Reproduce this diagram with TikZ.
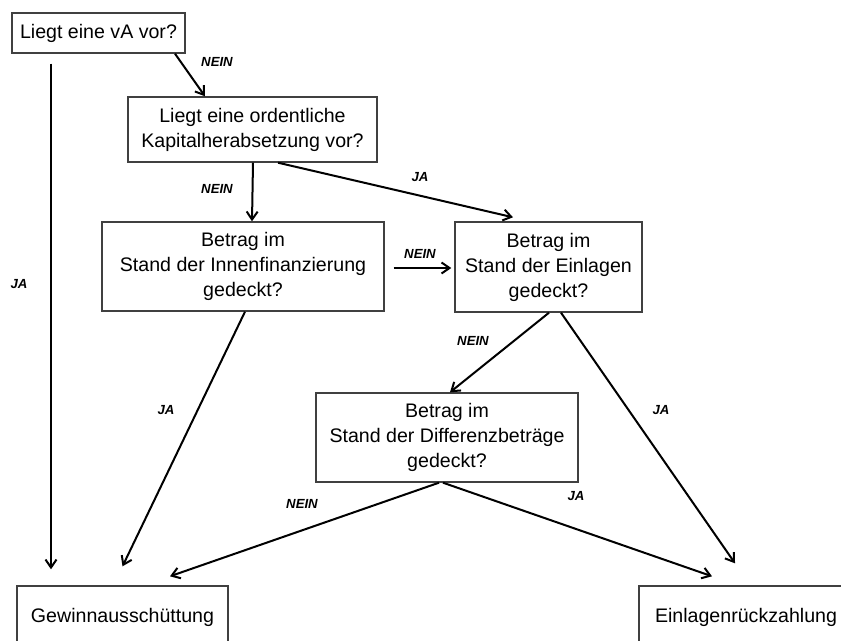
\documentclass[tikz,border=0pt]{standalone}
\usepackage{fontspec}
\setmainfont{Liberation Sans}
\usetikzlibrary{arrows.meta}
\begin{document}
\begin{tikzpicture}[x=0.5pt,y=-0.5pt,
  box/.style={draw=black!75,line width=0.7pt,inner sep=0pt,align=center,
    font=\fontsize{9.8pt}{12.5pt}\selectfont},
  arr/.style={line width=1pt,-{Straight Barb[length=4pt,width=5.5pt,line width=1pt]}},
  lbl/.style={inner sep=0pt,font=\fontsize{6.6pt}{7pt}\selectfont\bfseries\itshape}]
\useasboundingbox (0,0) rectangle (841,641);
\node[box,minimum width=86.5pt,minimum height=20pt] (b1) at (98.5,33) {Liegt eine vA vor?};
\node[box,minimum width=124.5pt,minimum height=32.5pt] (b2) at (252.5,129.5) {Liegt eine ordentliche\\Kapitalherabsetzung vor?};
\node[box,minimum width=141pt,minimum height=44.5pt] (b3) at (243,266.5) {Betrag im\\Stand der Innenfinanzierung\\gedeckt?};
\node[box,minimum width=93.5pt,minimum height=45pt] (b4) at (548.5,267) {Betrag im\\Stand der Einlagen\\gedeckt?};
\node[box,minimum width=131pt,minimum height=44.5pt] (b5) at (447,437.5) {Betrag im\\Stand der Differenzbeträge\\gedeckt?};
\node[box,minimum width=105.5pt,minimum height=31pt] (b6) at (122.5,617) {Gewinnausschüttung};
\node[box,minimum width=107pt,minimum height=31pt] (b7) at (746,617) {Einlagenrückzahlung};

\draw[arr] ([xshift=38.25pt]b1.south) -- ([xshift=-23.75pt]b2.north);
\draw[arr] ([xshift=-23.75pt,yshift=-5pt]b1.south) -- ([xshift=-35.75pt,yshift=8pt]b6.north);
\draw[arr] ([xshift=0.25pt]b2.south) -- ([xshift=4.5pt]b3.north);
\draw[arr] ([xshift=12.75pt]b2.south) -- ([xshift=-17.75pt,yshift=2pt]b4.north);
\draw[arr] ([xshift=4.5pt,yshift=-0.75pt]b3.east) -- ([xshift=-1.5pt,yshift=-0.5pt]b4.west);
\draw[arr] ([xshift=1pt]b3.south) -- ([xshift=0pt,yshift=9.5pt]b6.north);
\draw[arr] ([xshift=0.25pt]b4.south) -- ([xshift=1.5pt]b5.north);
\draw[arr] ([xshift=6.25pt]b4.south) -- ([xshift=-5.5pt,yshift=11pt]b7.north);
\draw[arr] ([xshift=-4pt]b5.south) -- ([xshift=23.75pt,yshift=4.5pt]b6.north);
\draw[arr] ([xshift=-2pt]b5.south) -- ([xshift=-17pt,yshift=4.5pt]b7.north);

\node[lbl] (l1) at (217,62) {NEIN};
\node[lbl] (l2) at (19,284) {JA};
\node[lbl] (l3) at (217,189) {NEIN};
\node[lbl] (l4) at (420,177) {JA};
\node[lbl] (l5) at (420,254) {NEIN};
\node[lbl] (l6) at (166,410) {JA};
\node[lbl] (l7) at (473,341) {NEIN};
\node[lbl] (l8) at (661,410) {JA};
\node[lbl] (l9) at (302,504) {NEIN};
\node[lbl] (l10) at (576,496) {JA};
\end{tikzpicture}
\end{document}
